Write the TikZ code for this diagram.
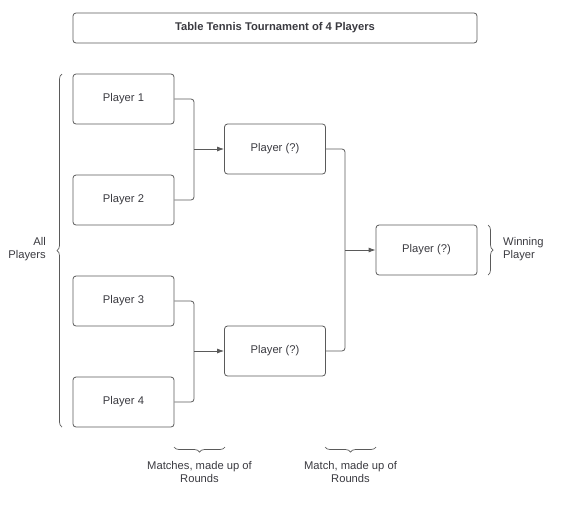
\documentclass[tikz,border=0pt]{standalone}
\usepackage{fontspec}
\setmainfont{Liberation Sans}
\usetikzlibrary{arrows.meta,decorations.pathreplacing}
\definecolor{txt}{HTML}{3A3A40}
\definecolor{ln}{HTML}{5A5A5A}
\tikzset{
  box/.style={draw=ln, line width=0.8pt, rounded corners=3pt, minimum width=101pt, minimum height=50pt, inner sep=0pt, text=txt, font=\fontsize{11.2}{13}\selectfont},
  conn/.style={draw=ln, line width=0.8pt, rounded corners=3pt},
  arr/.style={draw=ln, line width=0.8pt, -{Latex[length=7pt,width=5pt]}},
  br/.style={draw=ln, line width=0.7pt, decorate, decoration={brace, amplitude=5pt}},
  lbl/.style={text=txt, font=\fontsize{11.2}{13}\selectfont, inner sep=0pt}
}
\begin{document}
\begin{tikzpicture}[x=1pt,y=1pt]
\useasboundingbox (0,0) rectangle (561,-507);
\node[box, minimum width=404pt, minimum height=30pt, font=\fontsize{11.2}{13}\selectfont\bfseries] (title) at (275,-28) {Table Tennis Tournament of 4 Players};
\node[box] (p1) at (123.5,-99) {Player 1};
\node[box] (p2) at (123.5,-200) {Player 2};
\node[box] (p3) at (123.5,-301) {Player 3};
\node[box] (p4) at (123.5,-402) {Player 4};
\node[box] (m1) at (275,-149) {Player (?)};
\node[box] (m2) at (275,-351) {Player (?)};
\node[box] (w) at (426.5,-250) {Player (?)};
\draw[conn] (p1.east) -| (194,-149) |- (p2.east);
\coordinate (j1) at (194,-149);
\draw[arr] (j1) -- (m1.west);
\draw[conn] (p3.east) -| (194,-351) |- (p4.east);
\coordinate (j2) at (194,-351);
\draw[arr] (j2) -- (m2.west);
\draw[conn] (m1.east) -| (345,-250) |- (m2.east);
\coordinate (j3) at (345,-250);
\draw[arr] (j3) -- (w.west);
% braces
\coordinate (lb1) at (62,-427);
\coordinate (lb2) at (62,-74);
\draw[br] (lb1) -- (lb2);
\node[lbl, align=right, anchor=east] (allp) at (46,-249.5) {All\\Players};
\coordinate (rb1) at (488,-225);
\coordinate (rb2) at (488,-275);
\draw[br] (rb1) -- (rb2);
\node[lbl, align=left, anchor=west] (winp) at (503,-249.5) {Winning\\Player};
\coordinate (bb1) at (225,-447);
\coordinate (bb2) at (174,-447);
\draw[br] (bb1) -- (bb2);
\node[lbl, align=center] (mr1) at (199.5,-472) {Matches, made up of\\Rounds};
\coordinate (bc1) at (376,-447);
\coordinate (bc2) at (325,-447);
\draw[br] (bc1) -- (bc2);
\node[lbl, align=center] (mr2) at (350.5,-472) {Match, made up of\\Rounds};
\end{tikzpicture}
\end{document}
